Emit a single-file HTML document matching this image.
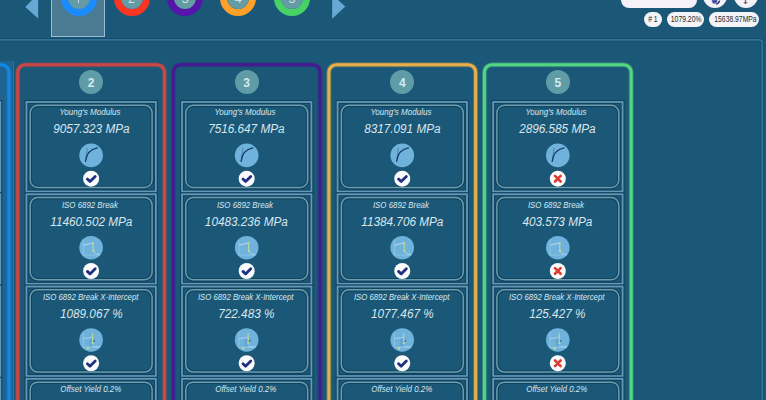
<!DOCTYPE html>
<html><head><meta charset="utf-8"><style>
*{margin:0;padding:0;box-sizing:border-box}
html,body{width:766px;height:400px;overflow:hidden;background:#1b5878;font-family:"Liberation Sans",sans-serif}
.a{position:absolute}
.badge{position:absolute;width:24px;height:24px;border-radius:50%;background:#5f9ca8;color:#d4ecec;font-size:12px;font-weight:bold;line-height:26px;text-align:center}
.card{position:absolute;height:90.4px;width:130.7px}
.t{position:absolute;left:0;right:0;text-align:center;font-style:italic;color:#d8e6ee;white-space:nowrap}
.t1{font-size:8.3px;top:6.3px}
.t2{font-size:12.5px;top:21.3px;transform:scaleX(0.94)}
.pill{position:absolute;top:11.6px;height:15.6px;border-radius:7.8px;background:#f4f4f8;color:#262626;font-size:8.5px;line-height:15.6px;text-align:center}
.pill span{display:inline-block;transform:scaleX(0.8)}
.tab{position:absolute;top:-20px;width:36px;height:36px;border-radius:50%;border:7px solid}
.tab span{position:absolute;left:0;right:0;top:0;bottom:0;border-radius:50%;background:#649ba5;color:#cfe2e2;font-size:12.5px;line-height:25px;text-align:center}
</style></head><body>
<svg class="a" style="left:0;top:0" width="400" height="40"><polygon points="25.3,6.9 38.1,-6 38.1,18.6" fill="#67a9d5"/><polygon points="332.2,-5.5 332.2,18.8 345.3,6.6" fill="#67a9d5"/></svg><div class="a" style="left:51.2px;top:-5px;width:54px;height:42.1px;background:#4b7a93;border:1.3px solid #98bcd4"></div><div class="tab" style="left:60.75px;border-color:#1a8cff"><span></span></div><div class="tab" style="left:113.55000000000001px;border-color:#fc3424"><span>2</span></div><div class="tab" style="left:167.2px;border-color:#5514aa"><span>3</span></div><div class="tab" style="left:220.2px;border-color:#ffa028"><span>4</span></div><div class="tab" style="left:273.9px;border-color:#46d264"><span>5</span></div><div class="a" style="left:78.2px;top:-6px;width:1.2px;height:8.6px;background:#bfe0e6"></div><div class="a" style="left:621.2px;top:-8px;width:75.6px;height:15.7px;border-radius:9px;background:#f4f2f8"></div><div class="a" style="left:703.2px;top:-16.3px;width:24px;height:24px;border-radius:50%;background:#f4f2f8"></div><div class="a" style="left:733.7px;top:-16.3px;width:24px;height:24px;border-radius:50%;background:#f4f2f8"></div><svg class="a" style="left:710px;top:0" width="11" height="6"><path d="M1.6 0 L7.6 0 L7 2.4 L5 4 L2.6 3.2 Z" fill="#5c64b2"/><path d="M3 1.5 L6.5 1.5" stroke="#2a3288" stroke-width="0.9"/><path d="M9.6 0.6 Q9.2 3 6.4 4.4" stroke="#1c2262" stroke-width="1.4" fill="none"/></svg><svg class="a" style="left:742px;top:0" width="7" height="6"><path d="M3.5 0 L3.5 3.2" stroke="#6a605c" stroke-width="1.2"/><path d="M1.2 2.2 L3.5 4.3 L5.8 2.2 Z" fill="#6a605c"/></svg><div class="pill" style="left:644.2px;width:18px"><span>#&nbsp;1</span></div><div class="pill" style="left:666.5px;width:37.5px"><span>1079.20%</span></div><div class="pill" style="left:708.9px;width:49.7px"><span>15638.97MPa</span></div><div class="a" style="left:-10px;top:61.2px;width:24px;height:400px;background:#1f6390;border-right:1px solid #2a729e"></div><svg class="a" style="left:0;top:0" width="766" height="400" viewBox="0 0 766 400"><path d="M0 39.8 L759.7 39.8 Q762.2 39.8 762.2 42.3 L762.2 400" fill="none" stroke="#164d6c" stroke-width="3.4"/><path d="M0 39.8 L759.7 39.8 Q762.2 39.8 762.2 42.3 L762.2 400" fill="none" stroke="#307598" stroke-width="1.8"/><rect x="-137.87" y="64.70" width="146.80" height="400" rx="7.5" fill="none" stroke="#1487e6" stroke-opacity="0.35" stroke-width="5"/><rect x="-137.87" y="64.70" width="146.80" height="400" rx="7.5" fill="none" stroke="#1487e6" stroke-width="3"/><rect x="-129.12" y="102.00" width="129.4" height="89.5" fill="none" stroke="#12435f" stroke-width="4.0"/><rect x="-125.37" y="105.30" width="121.9" height="82.2" rx="7.5" fill="none" stroke="#12435f" stroke-width="3.7"/><rect x="-129.12" y="102.00" width="129.4" height="89.5" fill="none" stroke="#6398b8" stroke-width="1.8"/><rect x="-125.37" y="105.30" width="121.9" height="82.2" rx="7.5" fill="none" stroke="#6a9db0" stroke-width="1.5"/><circle cx="-64.47" cy="155.40" r="11.8" fill="#6fb2db"/><g transform="translate(-76.47 143.40)"><path d="M8.1 4.4 L6.9 15.5" stroke="#4c80ac" stroke-width="0.9" fill="none"/><path d="M6.4 18 C7.2 11 10 6 18.2 4.5" stroke="#163a68" stroke-width="1.25" fill="none" stroke-linecap="round"/></g><circle cx="-64.47" cy="178.70" r="8" fill="#fbfbfb"/><g transform="translate(-72.47 170.70)"><path d="M4.3 8.4 L6.9 10.9 L12.1 5.8" stroke="#1f2f82" stroke-width="2.8" fill="none" stroke-linecap="round" stroke-linejoin="round"/></g><rect x="-129.12" y="194.28" width="129.4" height="89.5" fill="none" stroke="#12435f" stroke-width="4.0"/><rect x="-125.37" y="197.58" width="121.9" height="82.2" rx="7.5" fill="none" stroke="#12435f" stroke-width="3.7"/><rect x="-129.12" y="194.28" width="129.4" height="89.5" fill="none" stroke="#6398b8" stroke-width="1.8"/><rect x="-125.37" y="197.58" width="121.9" height="82.2" rx="7.5" fill="none" stroke="#6a9db0" stroke-width="1.5"/><circle cx="-64.47" cy="247.68" r="11.8" fill="#6fb2db"/><g transform="translate(-76.47 235.68)"><path d="M4.3 4.5 L4.3 19.4 L21 19.4" stroke="#94c6e4" stroke-width="0.8" fill="none"/><path d="M4.3 9.5 L13.7 7.2" stroke="#bcd6ee" stroke-width="1" fill="none"/><path d="M14.2 15.5 L17 18.3 L21 18.8" stroke="#a8d4ee" stroke-width="1" fill="none"/><path d="M13.8 7.2 L14.2 15.5" stroke="#bcd896" stroke-width="1.1" fill="none"/><circle cx="13.8" cy="7.5" r="1.1" fill="#b8d894"/><circle cx="14.2" cy="15.2" r="1.25" fill="#b8d894"/></g><circle cx="-64.47" cy="270.98" r="8" fill="#fbfbfb"/><g transform="translate(-72.47 262.98)"><path d="M4.3 8.4 L6.9 10.9 L12.1 5.8" stroke="#1f2f82" stroke-width="2.8" fill="none" stroke-linecap="round" stroke-linejoin="round"/></g><rect x="-129.12" y="286.56" width="129.4" height="89.5" fill="none" stroke="#12435f" stroke-width="4.0"/><rect x="-125.37" y="289.86" width="121.9" height="82.2" rx="7.5" fill="none" stroke="#12435f" stroke-width="3.7"/><rect x="-129.12" y="286.56" width="129.4" height="89.5" fill="none" stroke="#6398b8" stroke-width="1.8"/><rect x="-125.37" y="289.86" width="121.9" height="82.2" rx="7.5" fill="none" stroke="#6a9db0" stroke-width="1.5"/><circle cx="-64.47" cy="339.96" r="11.8" fill="#6fb2db"/><g transform="translate(-76.47 327.96)"><path d="M4.3 4.5 L4.3 19.4 L21 19.4" stroke="#94c6e4" stroke-width="0.8" fill="none"/><path d="M11.5 9.5 L11.5 18" stroke="#62a6d8" stroke-width="3" fill="none"/><path d="M4.3 10.5 L13.4 9.6" stroke="#b4d4ee" stroke-width="0.9" fill="none"/><path d="M13.6 18.8 L21 18.8" stroke="#a8d4ee" stroke-width="0.9" fill="none"/><path d="M13.4 5.3 L13.6 15.8" stroke="#bcd896" stroke-width="1.1" fill="none"/><path d="M14.3 13.9 L15.8 11.9" stroke="#2d4f86" stroke-width="1" fill="none"/><circle cx="13.6" cy="15.4" r="1.15" fill="#b8d894"/><circle cx="8.8" cy="20.2" r="1.25" fill="#c4d890"/></g><circle cx="-64.47" cy="363.26" r="8" fill="#fbfbfb"/><g transform="translate(-72.47 355.26)"><path d="M4.3 8.4 L6.9 10.9 L12.1 5.8" stroke="#1f2f82" stroke-width="2.8" fill="none" stroke-linecap="round" stroke-linejoin="round"/></g><rect x="-129.12" y="378.84" width="129.4" height="89.5" fill="none" stroke="#12435f" stroke-width="4.0"/><rect x="-125.37" y="382.14" width="121.9" height="82.2" rx="7.5" fill="none" stroke="#12435f" stroke-width="3.7"/><rect x="-129.12" y="378.84" width="129.4" height="89.5" fill="none" stroke="#6398b8" stroke-width="1.8"/><rect x="-125.37" y="382.14" width="121.9" height="82.2" rx="7.5" fill="none" stroke="#6a9db0" stroke-width="1.5"/><circle cx="-64.47" cy="432.24" r="11.8" fill="#6fb2db"/><g transform="translate(-76.47 420.24)"><path d="M4.3 4.5 L4.3 19.4 L21 19.4" stroke="#94c6e4" stroke-width="0.8" fill="none"/><path d="M11.5 9.5 L11.5 18" stroke="#62a6d8" stroke-width="3" fill="none"/><path d="M4.3 10.5 L13.4 9.6" stroke="#b4d4ee" stroke-width="0.9" fill="none"/><path d="M13.6 18.8 L21 18.8" stroke="#a8d4ee" stroke-width="0.9" fill="none"/><path d="M13.4 5.3 L13.6 15.8" stroke="#bcd896" stroke-width="1.1" fill="none"/><path d="M14.3 13.9 L15.8 11.9" stroke="#2d4f86" stroke-width="1" fill="none"/><circle cx="13.6" cy="15.4" r="1.15" fill="#b8d894"/><circle cx="8.8" cy="20.2" r="1.25" fill="#c4d890"/></g><circle cx="-64.47" cy="455.54" r="8" fill="#fbfbfb"/><g transform="translate(-72.47 447.54)"><path d="M4.3 8.4 L6.9 10.9 L12.1 5.8" stroke="#1f2f82" stroke-width="2.8" fill="none" stroke-linecap="round" stroke-linejoin="round"/></g><rect x="17.70" y="64.70" width="146.80" height="400" rx="7.5" fill="none" stroke="#cc4644" stroke-opacity="0.35" stroke-width="5"/><rect x="17.70" y="64.70" width="146.80" height="400" rx="7.5" fill="none" stroke="#cc4644" stroke-width="3"/><rect x="26.45" y="102.00" width="129.4" height="89.5" fill="none" stroke="#12435f" stroke-width="4.0"/><rect x="30.20" y="105.30" width="121.9" height="82.2" rx="7.5" fill="none" stroke="#12435f" stroke-width="3.7"/><rect x="26.45" y="102.00" width="129.4" height="89.5" fill="none" stroke="#6398b8" stroke-width="1.8"/><rect x="30.20" y="105.30" width="121.9" height="82.2" rx="7.5" fill="none" stroke="#6a9db0" stroke-width="1.5"/><circle cx="91.10" cy="155.40" r="11.8" fill="#6fb2db"/><g transform="translate(79.10 143.40)"><path d="M8.1 4.4 L6.9 15.5" stroke="#4c80ac" stroke-width="0.9" fill="none"/><path d="M6.4 18 C7.2 11 10 6 18.2 4.5" stroke="#163a68" stroke-width="1.25" fill="none" stroke-linecap="round"/></g><circle cx="91.10" cy="178.70" r="8" fill="#fbfbfb"/><g transform="translate(83.10 170.70)"><path d="M4.3 8.4 L6.9 10.9 L12.1 5.8" stroke="#1f2f82" stroke-width="2.8" fill="none" stroke-linecap="round" stroke-linejoin="round"/></g><rect x="26.45" y="194.28" width="129.4" height="89.5" fill="none" stroke="#12435f" stroke-width="4.0"/><rect x="30.20" y="197.58" width="121.9" height="82.2" rx="7.5" fill="none" stroke="#12435f" stroke-width="3.7"/><rect x="26.45" y="194.28" width="129.4" height="89.5" fill="none" stroke="#6398b8" stroke-width="1.8"/><rect x="30.20" y="197.58" width="121.9" height="82.2" rx="7.5" fill="none" stroke="#6a9db0" stroke-width="1.5"/><circle cx="91.10" cy="247.68" r="11.8" fill="#6fb2db"/><g transform="translate(79.10 235.68)"><path d="M4.3 4.5 L4.3 19.4 L21 19.4" stroke="#94c6e4" stroke-width="0.8" fill="none"/><path d="M4.3 9.5 L13.7 7.2" stroke="#bcd6ee" stroke-width="1" fill="none"/><path d="M14.2 15.5 L17 18.3 L21 18.8" stroke="#a8d4ee" stroke-width="1" fill="none"/><path d="M13.8 7.2 L14.2 15.5" stroke="#bcd896" stroke-width="1.1" fill="none"/><circle cx="13.8" cy="7.5" r="1.1" fill="#b8d894"/><circle cx="14.2" cy="15.2" r="1.25" fill="#b8d894"/></g><circle cx="91.10" cy="270.98" r="8" fill="#fbfbfb"/><g transform="translate(83.10 262.98)"><path d="M4.3 8.4 L6.9 10.9 L12.1 5.8" stroke="#1f2f82" stroke-width="2.8" fill="none" stroke-linecap="round" stroke-linejoin="round"/></g><rect x="26.45" y="286.56" width="129.4" height="89.5" fill="none" stroke="#12435f" stroke-width="4.0"/><rect x="30.20" y="289.86" width="121.9" height="82.2" rx="7.5" fill="none" stroke="#12435f" stroke-width="3.7"/><rect x="26.45" y="286.56" width="129.4" height="89.5" fill="none" stroke="#6398b8" stroke-width="1.8"/><rect x="30.20" y="289.86" width="121.9" height="82.2" rx="7.5" fill="none" stroke="#6a9db0" stroke-width="1.5"/><circle cx="91.10" cy="339.96" r="11.8" fill="#6fb2db"/><g transform="translate(79.10 327.96)"><path d="M4.3 4.5 L4.3 19.4 L21 19.4" stroke="#94c6e4" stroke-width="0.8" fill="none"/><path d="M11.5 9.5 L11.5 18" stroke="#62a6d8" stroke-width="3" fill="none"/><path d="M4.3 10.5 L13.4 9.6" stroke="#b4d4ee" stroke-width="0.9" fill="none"/><path d="M13.6 18.8 L21 18.8" stroke="#a8d4ee" stroke-width="0.9" fill="none"/><path d="M13.4 5.3 L13.6 15.8" stroke="#bcd896" stroke-width="1.1" fill="none"/><path d="M14.3 13.9 L15.8 11.9" stroke="#2d4f86" stroke-width="1" fill="none"/><circle cx="13.6" cy="15.4" r="1.15" fill="#b8d894"/><circle cx="8.8" cy="20.2" r="1.25" fill="#c4d890"/></g><circle cx="91.10" cy="363.26" r="8" fill="#fbfbfb"/><g transform="translate(83.10 355.26)"><path d="M4.3 8.4 L6.9 10.9 L12.1 5.8" stroke="#1f2f82" stroke-width="2.8" fill="none" stroke-linecap="round" stroke-linejoin="round"/></g><rect x="26.45" y="378.84" width="129.4" height="89.5" fill="none" stroke="#12435f" stroke-width="4.0"/><rect x="30.20" y="382.14" width="121.9" height="82.2" rx="7.5" fill="none" stroke="#12435f" stroke-width="3.7"/><rect x="26.45" y="378.84" width="129.4" height="89.5" fill="none" stroke="#6398b8" stroke-width="1.8"/><rect x="30.20" y="382.14" width="121.9" height="82.2" rx="7.5" fill="none" stroke="#6a9db0" stroke-width="1.5"/><circle cx="91.10" cy="432.24" r="11.8" fill="#6fb2db"/><g transform="translate(79.10 420.24)"><path d="M4.3 4.5 L4.3 19.4 L21 19.4" stroke="#94c6e4" stroke-width="0.8" fill="none"/><path d="M11.5 9.5 L11.5 18" stroke="#62a6d8" stroke-width="3" fill="none"/><path d="M4.3 10.5 L13.4 9.6" stroke="#b4d4ee" stroke-width="0.9" fill="none"/><path d="M13.6 18.8 L21 18.8" stroke="#a8d4ee" stroke-width="0.9" fill="none"/><path d="M13.4 5.3 L13.6 15.8" stroke="#bcd896" stroke-width="1.1" fill="none"/><path d="M14.3 13.9 L15.8 11.9" stroke="#2d4f86" stroke-width="1" fill="none"/><circle cx="13.6" cy="15.4" r="1.15" fill="#b8d894"/><circle cx="8.8" cy="20.2" r="1.25" fill="#c4d890"/></g><circle cx="91.10" cy="455.54" r="8" fill="#fbfbfb"/><g transform="translate(83.10 447.54)"><path d="M4.3 8.4 L6.9 10.9 L12.1 5.8" stroke="#1f2f82" stroke-width="2.8" fill="none" stroke-linecap="round" stroke-linejoin="round"/></g><rect x="173.27" y="64.70" width="146.80" height="400" rx="7.5" fill="none" stroke="#431a90" stroke-opacity="0.35" stroke-width="5"/><rect x="173.27" y="64.70" width="146.80" height="400" rx="7.5" fill="none" stroke="#431a90" stroke-width="3"/><rect x="182.02" y="102.00" width="129.4" height="89.5" fill="none" stroke="#12435f" stroke-width="4.0"/><rect x="185.77" y="105.30" width="121.9" height="82.2" rx="7.5" fill="none" stroke="#12435f" stroke-width="3.7"/><rect x="182.02" y="102.00" width="129.4" height="89.5" fill="none" stroke="#6398b8" stroke-width="1.8"/><rect x="185.77" y="105.30" width="121.9" height="82.2" rx="7.5" fill="none" stroke="#6a9db0" stroke-width="1.5"/><circle cx="246.67" cy="155.40" r="11.8" fill="#6fb2db"/><g transform="translate(234.67 143.40)"><path d="M8.1 4.4 L6.9 15.5" stroke="#4c80ac" stroke-width="0.9" fill="none"/><path d="M6.4 18 C7.2 11 10 6 18.2 4.5" stroke="#163a68" stroke-width="1.25" fill="none" stroke-linecap="round"/></g><circle cx="246.67" cy="178.70" r="8" fill="#fbfbfb"/><g transform="translate(238.67 170.70)"><path d="M4.3 8.4 L6.9 10.9 L12.1 5.8" stroke="#1f2f82" stroke-width="2.8" fill="none" stroke-linecap="round" stroke-linejoin="round"/></g><rect x="182.02" y="194.28" width="129.4" height="89.5" fill="none" stroke="#12435f" stroke-width="4.0"/><rect x="185.77" y="197.58" width="121.9" height="82.2" rx="7.5" fill="none" stroke="#12435f" stroke-width="3.7"/><rect x="182.02" y="194.28" width="129.4" height="89.5" fill="none" stroke="#6398b8" stroke-width="1.8"/><rect x="185.77" y="197.58" width="121.9" height="82.2" rx="7.5" fill="none" stroke="#6a9db0" stroke-width="1.5"/><circle cx="246.67" cy="247.68" r="11.8" fill="#6fb2db"/><g transform="translate(234.67 235.68)"><path d="M4.3 4.5 L4.3 19.4 L21 19.4" stroke="#94c6e4" stroke-width="0.8" fill="none"/><path d="M4.3 9.5 L13.7 7.2" stroke="#bcd6ee" stroke-width="1" fill="none"/><path d="M14.2 15.5 L17 18.3 L21 18.8" stroke="#a8d4ee" stroke-width="1" fill="none"/><path d="M13.8 7.2 L14.2 15.5" stroke="#bcd896" stroke-width="1.1" fill="none"/><circle cx="13.8" cy="7.5" r="1.1" fill="#b8d894"/><circle cx="14.2" cy="15.2" r="1.25" fill="#b8d894"/></g><circle cx="246.67" cy="270.98" r="8" fill="#fbfbfb"/><g transform="translate(238.67 262.98)"><path d="M4.3 8.4 L6.9 10.9 L12.1 5.8" stroke="#1f2f82" stroke-width="2.8" fill="none" stroke-linecap="round" stroke-linejoin="round"/></g><rect x="182.02" y="286.56" width="129.4" height="89.5" fill="none" stroke="#12435f" stroke-width="4.0"/><rect x="185.77" y="289.86" width="121.9" height="82.2" rx="7.5" fill="none" stroke="#12435f" stroke-width="3.7"/><rect x="182.02" y="286.56" width="129.4" height="89.5" fill="none" stroke="#6398b8" stroke-width="1.8"/><rect x="185.77" y="289.86" width="121.9" height="82.2" rx="7.5" fill="none" stroke="#6a9db0" stroke-width="1.5"/><circle cx="246.67" cy="339.96" r="11.8" fill="#6fb2db"/><g transform="translate(234.67 327.96)"><path d="M4.3 4.5 L4.3 19.4 L21 19.4" stroke="#94c6e4" stroke-width="0.8" fill="none"/><path d="M11.5 9.5 L11.5 18" stroke="#62a6d8" stroke-width="3" fill="none"/><path d="M4.3 10.5 L13.4 9.6" stroke="#b4d4ee" stroke-width="0.9" fill="none"/><path d="M13.6 18.8 L21 18.8" stroke="#a8d4ee" stroke-width="0.9" fill="none"/><path d="M13.4 5.3 L13.6 15.8" stroke="#bcd896" stroke-width="1.1" fill="none"/><path d="M14.3 13.9 L15.8 11.9" stroke="#2d4f86" stroke-width="1" fill="none"/><circle cx="13.6" cy="15.4" r="1.15" fill="#b8d894"/><circle cx="8.8" cy="20.2" r="1.25" fill="#c4d890"/></g><circle cx="246.67" cy="363.26" r="8" fill="#fbfbfb"/><g transform="translate(238.67 355.26)"><path d="M4.3 8.4 L6.9 10.9 L12.1 5.8" stroke="#1f2f82" stroke-width="2.8" fill="none" stroke-linecap="round" stroke-linejoin="round"/></g><rect x="182.02" y="378.84" width="129.4" height="89.5" fill="none" stroke="#12435f" stroke-width="4.0"/><rect x="185.77" y="382.14" width="121.9" height="82.2" rx="7.5" fill="none" stroke="#12435f" stroke-width="3.7"/><rect x="182.02" y="378.84" width="129.4" height="89.5" fill="none" stroke="#6398b8" stroke-width="1.8"/><rect x="185.77" y="382.14" width="121.9" height="82.2" rx="7.5" fill="none" stroke="#6a9db0" stroke-width="1.5"/><circle cx="246.67" cy="432.24" r="11.8" fill="#6fb2db"/><g transform="translate(234.67 420.24)"><path d="M4.3 4.5 L4.3 19.4 L21 19.4" stroke="#94c6e4" stroke-width="0.8" fill="none"/><path d="M11.5 9.5 L11.5 18" stroke="#62a6d8" stroke-width="3" fill="none"/><path d="M4.3 10.5 L13.4 9.6" stroke="#b4d4ee" stroke-width="0.9" fill="none"/><path d="M13.6 18.8 L21 18.8" stroke="#a8d4ee" stroke-width="0.9" fill="none"/><path d="M13.4 5.3 L13.6 15.8" stroke="#bcd896" stroke-width="1.1" fill="none"/><path d="M14.3 13.9 L15.8 11.9" stroke="#2d4f86" stroke-width="1" fill="none"/><circle cx="13.6" cy="15.4" r="1.15" fill="#b8d894"/><circle cx="8.8" cy="20.2" r="1.25" fill="#c4d890"/></g><circle cx="246.67" cy="455.54" r="8" fill="#fbfbfb"/><g transform="translate(238.67 447.54)"><path d="M4.3 8.4 L6.9 10.9 L12.1 5.8" stroke="#1f2f82" stroke-width="2.8" fill="none" stroke-linecap="round" stroke-linejoin="round"/></g><rect x="328.84" y="64.70" width="146.80" height="400" rx="7.5" fill="none" stroke="#e8ae48" stroke-opacity="0.35" stroke-width="5"/><rect x="328.84" y="64.70" width="146.80" height="400" rx="7.5" fill="none" stroke="#e8ae48" stroke-width="3"/><rect x="337.59" y="102.00" width="129.4" height="89.5" fill="none" stroke="#12435f" stroke-width="4.0"/><rect x="341.34" y="105.30" width="121.9" height="82.2" rx="7.5" fill="none" stroke="#12435f" stroke-width="3.7"/><rect x="337.59" y="102.00" width="129.4" height="89.5" fill="none" stroke="#6398b8" stroke-width="1.8"/><rect x="341.34" y="105.30" width="121.9" height="82.2" rx="7.5" fill="none" stroke="#6a9db0" stroke-width="1.5"/><circle cx="402.24" cy="155.40" r="11.8" fill="#6fb2db"/><g transform="translate(390.24 143.40)"><path d="M8.1 4.4 L6.9 15.5" stroke="#4c80ac" stroke-width="0.9" fill="none"/><path d="M6.4 18 C7.2 11 10 6 18.2 4.5" stroke="#163a68" stroke-width="1.25" fill="none" stroke-linecap="round"/></g><circle cx="402.24" cy="178.70" r="8" fill="#fbfbfb"/><g transform="translate(394.24 170.70)"><path d="M4.3 8.4 L6.9 10.9 L12.1 5.8" stroke="#1f2f82" stroke-width="2.8" fill="none" stroke-linecap="round" stroke-linejoin="round"/></g><rect x="337.59" y="194.28" width="129.4" height="89.5" fill="none" stroke="#12435f" stroke-width="4.0"/><rect x="341.34" y="197.58" width="121.9" height="82.2" rx="7.5" fill="none" stroke="#12435f" stroke-width="3.7"/><rect x="337.59" y="194.28" width="129.4" height="89.5" fill="none" stroke="#6398b8" stroke-width="1.8"/><rect x="341.34" y="197.58" width="121.9" height="82.2" rx="7.5" fill="none" stroke="#6a9db0" stroke-width="1.5"/><circle cx="402.24" cy="247.68" r="11.8" fill="#6fb2db"/><g transform="translate(390.24 235.68)"><path d="M4.3 4.5 L4.3 19.4 L21 19.4" stroke="#94c6e4" stroke-width="0.8" fill="none"/><path d="M4.3 9.5 L13.7 7.2" stroke="#bcd6ee" stroke-width="1" fill="none"/><path d="M14.2 15.5 L17 18.3 L21 18.8" stroke="#a8d4ee" stroke-width="1" fill="none"/><path d="M13.8 7.2 L14.2 15.5" stroke="#bcd896" stroke-width="1.1" fill="none"/><circle cx="13.8" cy="7.5" r="1.1" fill="#b8d894"/><circle cx="14.2" cy="15.2" r="1.25" fill="#b8d894"/></g><circle cx="402.24" cy="270.98" r="8" fill="#fbfbfb"/><g transform="translate(394.24 262.98)"><path d="M4.3 8.4 L6.9 10.9 L12.1 5.8" stroke="#1f2f82" stroke-width="2.8" fill="none" stroke-linecap="round" stroke-linejoin="round"/></g><rect x="337.59" y="286.56" width="129.4" height="89.5" fill="none" stroke="#12435f" stroke-width="4.0"/><rect x="341.34" y="289.86" width="121.9" height="82.2" rx="7.5" fill="none" stroke="#12435f" stroke-width="3.7"/><rect x="337.59" y="286.56" width="129.4" height="89.5" fill="none" stroke="#6398b8" stroke-width="1.8"/><rect x="341.34" y="289.86" width="121.9" height="82.2" rx="7.5" fill="none" stroke="#6a9db0" stroke-width="1.5"/><circle cx="402.24" cy="339.96" r="11.8" fill="#6fb2db"/><g transform="translate(390.24 327.96)"><path d="M4.3 4.5 L4.3 19.4 L21 19.4" stroke="#94c6e4" stroke-width="0.8" fill="none"/><path d="M11.5 9.5 L11.5 18" stroke="#62a6d8" stroke-width="3" fill="none"/><path d="M4.3 10.5 L13.4 9.6" stroke="#b4d4ee" stroke-width="0.9" fill="none"/><path d="M13.6 18.8 L21 18.8" stroke="#a8d4ee" stroke-width="0.9" fill="none"/><path d="M13.4 5.3 L13.6 15.8" stroke="#bcd896" stroke-width="1.1" fill="none"/><path d="M14.3 13.9 L15.8 11.9" stroke="#2d4f86" stroke-width="1" fill="none"/><circle cx="13.6" cy="15.4" r="1.15" fill="#b8d894"/><circle cx="8.8" cy="20.2" r="1.25" fill="#c4d890"/></g><circle cx="402.24" cy="363.26" r="8" fill="#fbfbfb"/><g transform="translate(394.24 355.26)"><path d="M4.3 8.4 L6.9 10.9 L12.1 5.8" stroke="#1f2f82" stroke-width="2.8" fill="none" stroke-linecap="round" stroke-linejoin="round"/></g><rect x="337.59" y="378.84" width="129.4" height="89.5" fill="none" stroke="#12435f" stroke-width="4.0"/><rect x="341.34" y="382.14" width="121.9" height="82.2" rx="7.5" fill="none" stroke="#12435f" stroke-width="3.7"/><rect x="337.59" y="378.84" width="129.4" height="89.5" fill="none" stroke="#6398b8" stroke-width="1.8"/><rect x="341.34" y="382.14" width="121.9" height="82.2" rx="7.5" fill="none" stroke="#6a9db0" stroke-width="1.5"/><circle cx="402.24" cy="432.24" r="11.8" fill="#6fb2db"/><g transform="translate(390.24 420.24)"><path d="M4.3 4.5 L4.3 19.4 L21 19.4" stroke="#94c6e4" stroke-width="0.8" fill="none"/><path d="M11.5 9.5 L11.5 18" stroke="#62a6d8" stroke-width="3" fill="none"/><path d="M4.3 10.5 L13.4 9.6" stroke="#b4d4ee" stroke-width="0.9" fill="none"/><path d="M13.6 18.8 L21 18.8" stroke="#a8d4ee" stroke-width="0.9" fill="none"/><path d="M13.4 5.3 L13.6 15.8" stroke="#bcd896" stroke-width="1.1" fill="none"/><path d="M14.3 13.9 L15.8 11.9" stroke="#2d4f86" stroke-width="1" fill="none"/><circle cx="13.6" cy="15.4" r="1.15" fill="#b8d894"/><circle cx="8.8" cy="20.2" r="1.25" fill="#c4d890"/></g><circle cx="402.24" cy="455.54" r="8" fill="#fbfbfb"/><g transform="translate(394.24 447.54)"><path d="M4.3 8.4 L6.9 10.9 L12.1 5.8" stroke="#1f2f82" stroke-width="2.8" fill="none" stroke-linecap="round" stroke-linejoin="round"/></g><rect x="484.41" y="64.70" width="146.80" height="400" rx="7.5" fill="none" stroke="#55d482" stroke-opacity="0.35" stroke-width="5"/><rect x="484.41" y="64.70" width="146.80" height="400" rx="7.5" fill="none" stroke="#55d482" stroke-width="3"/><rect x="493.16" y="102.00" width="129.4" height="89.5" fill="none" stroke="#12435f" stroke-width="4.0"/><rect x="496.91" y="105.30" width="121.9" height="82.2" rx="7.5" fill="none" stroke="#12435f" stroke-width="3.7"/><rect x="493.16" y="102.00" width="129.4" height="89.5" fill="none" stroke="#6398b8" stroke-width="1.8"/><rect x="496.91" y="105.30" width="121.9" height="82.2" rx="7.5" fill="none" stroke="#6a9db0" stroke-width="1.5"/><circle cx="557.81" cy="155.40" r="11.8" fill="#6fb2db"/><g transform="translate(545.81 143.40)"><path d="M8.1 4.4 L6.9 15.5" stroke="#4c80ac" stroke-width="0.9" fill="none"/><path d="M6.4 18 C7.2 11 10 6 18.2 4.5" stroke="#163a68" stroke-width="1.25" fill="none" stroke-linecap="round"/></g><circle cx="557.81" cy="178.70" r="8" fill="#fbfbfb"/><g transform="translate(549.81 170.70)"><path d="M5.2 5.2 L10.8 10.8 M10.8 5.2 L5.2 10.8" stroke="#e03a30" stroke-width="2.6" fill="none" stroke-linecap="round"/></g><rect x="493.16" y="194.28" width="129.4" height="89.5" fill="none" stroke="#12435f" stroke-width="4.0"/><rect x="496.91" y="197.58" width="121.9" height="82.2" rx="7.5" fill="none" stroke="#12435f" stroke-width="3.7"/><rect x="493.16" y="194.28" width="129.4" height="89.5" fill="none" stroke="#6398b8" stroke-width="1.8"/><rect x="496.91" y="197.58" width="121.9" height="82.2" rx="7.5" fill="none" stroke="#6a9db0" stroke-width="1.5"/><circle cx="557.81" cy="247.68" r="11.8" fill="#6fb2db"/><g transform="translate(545.81 235.68)"><path d="M4.3 4.5 L4.3 19.4 L21 19.4" stroke="#94c6e4" stroke-width="0.8" fill="none"/><path d="M4.3 9.5 L13.7 7.2" stroke="#bcd6ee" stroke-width="1" fill="none"/><path d="M14.2 15.5 L17 18.3 L21 18.8" stroke="#a8d4ee" stroke-width="1" fill="none"/><path d="M13.8 7.2 L14.2 15.5" stroke="#bcd896" stroke-width="1.1" fill="none"/><circle cx="13.8" cy="7.5" r="1.1" fill="#b8d894"/><circle cx="14.2" cy="15.2" r="1.25" fill="#b8d894"/></g><circle cx="557.81" cy="270.98" r="8" fill="#fbfbfb"/><g transform="translate(549.81 262.98)"><path d="M5.2 5.2 L10.8 10.8 M10.8 5.2 L5.2 10.8" stroke="#e03a30" stroke-width="2.6" fill="none" stroke-linecap="round"/></g><rect x="493.16" y="286.56" width="129.4" height="89.5" fill="none" stroke="#12435f" stroke-width="4.0"/><rect x="496.91" y="289.86" width="121.9" height="82.2" rx="7.5" fill="none" stroke="#12435f" stroke-width="3.7"/><rect x="493.16" y="286.56" width="129.4" height="89.5" fill="none" stroke="#6398b8" stroke-width="1.8"/><rect x="496.91" y="289.86" width="121.9" height="82.2" rx="7.5" fill="none" stroke="#6a9db0" stroke-width="1.5"/><circle cx="557.81" cy="339.96" r="11.8" fill="#6fb2db"/><g transform="translate(545.81 327.96)"><path d="M4.3 4.5 L4.3 19.4 L21 19.4" stroke="#94c6e4" stroke-width="0.8" fill="none"/><path d="M11.5 9.5 L11.5 18" stroke="#62a6d8" stroke-width="3" fill="none"/><path d="M4.3 10.5 L13.4 9.6" stroke="#b4d4ee" stroke-width="0.9" fill="none"/><path d="M13.6 18.8 L21 18.8" stroke="#a8d4ee" stroke-width="0.9" fill="none"/><path d="M13.4 5.3 L13.6 15.8" stroke="#bcd896" stroke-width="1.1" fill="none"/><path d="M14.3 13.9 L15.8 11.9" stroke="#2d4f86" stroke-width="1" fill="none"/><circle cx="13.6" cy="15.4" r="1.15" fill="#b8d894"/><circle cx="8.8" cy="20.2" r="1.25" fill="#c4d890"/></g><circle cx="557.81" cy="363.26" r="8" fill="#fbfbfb"/><g transform="translate(549.81 355.26)"><path d="M5.2 5.2 L10.8 10.8 M10.8 5.2 L5.2 10.8" stroke="#e03a30" stroke-width="2.6" fill="none" stroke-linecap="round"/></g><rect x="493.16" y="378.84" width="129.4" height="89.5" fill="none" stroke="#12435f" stroke-width="4.0"/><rect x="496.91" y="382.14" width="121.9" height="82.2" rx="7.5" fill="none" stroke="#12435f" stroke-width="3.7"/><rect x="493.16" y="378.84" width="129.4" height="89.5" fill="none" stroke="#6398b8" stroke-width="1.8"/><rect x="496.91" y="382.14" width="121.9" height="82.2" rx="7.5" fill="none" stroke="#6a9db0" stroke-width="1.5"/><circle cx="557.81" cy="432.24" r="11.8" fill="#6fb2db"/><g transform="translate(545.81 420.24)"><path d="M4.3 4.5 L4.3 19.4 L21 19.4" stroke="#94c6e4" stroke-width="0.8" fill="none"/><path d="M11.5 9.5 L11.5 18" stroke="#62a6d8" stroke-width="3" fill="none"/><path d="M4.3 10.5 L13.4 9.6" stroke="#b4d4ee" stroke-width="0.9" fill="none"/><path d="M13.6 18.8 L21 18.8" stroke="#a8d4ee" stroke-width="0.9" fill="none"/><path d="M13.4 5.3 L13.6 15.8" stroke="#bcd896" stroke-width="1.1" fill="none"/><path d="M14.3 13.9 L15.8 11.9" stroke="#2d4f86" stroke-width="1" fill="none"/><circle cx="13.6" cy="15.4" r="1.15" fill="#b8d894"/><circle cx="8.8" cy="20.2" r="1.25" fill="#c4d890"/></g><circle cx="557.81" cy="455.54" r="8" fill="#fbfbfb"/><g transform="translate(549.81 447.54)"><path d="M5.2 5.2 L10.8 10.8 M10.8 5.2 L5.2 10.8" stroke="#e03a30" stroke-width="2.6" fill="none" stroke-linecap="round"/></g></svg><div class="badge" style="left:-76.47px;top:69.5px">1</div><div class="card" style="left:-129.82px;top:101.20px"><div class="t t1" style="transform:translateX(-1.4px) scaleX(0.969)">Young's Modulus</div><div class="t t2">0000.000 MPa</div></div><div class="card" style="left:-129.82px;top:193.48px"><div class="t t1" style="transform:translateX(-1.45px) scaleX(0.947)">ISO 6892 Break</div><div class="t t2">00000.000 MPa</div></div><div class="card" style="left:-129.82px;top:285.76px"><div class="t t1" style="transform:translateX(-0.7px) scaleX(0.937)">ISO 6892 Break X-Intercept</div><div class="t t2">0000.000 %</div></div><div class="card" style="left:-129.82px;top:378.04px"><div class="t t1" style="transform:translateX(-0.6px) scaleX(0.956)">Offset Yield 0.2%</div><div class="t t2"></div></div><div class="badge" style="left:79.10px;top:69.5px">2</div><div class="card" style="left:25.75px;top:101.20px"><div class="t t1" style="transform:translateX(-1.4px) scaleX(0.969)">Young's Modulus</div><div class="t t2">9057.323 MPa</div></div><div class="card" style="left:25.75px;top:193.48px"><div class="t t1" style="transform:translateX(-1.45px) scaleX(0.947)">ISO 6892 Break</div><div class="t t2">11460.502 MPa</div></div><div class="card" style="left:25.75px;top:285.76px"><div class="t t1" style="transform:translateX(-0.7px) scaleX(0.937)">ISO 6892 Break X-Intercept</div><div class="t t2">1089.067 %</div></div><div class="card" style="left:25.75px;top:378.04px"><div class="t t1" style="transform:translateX(-0.6px) scaleX(0.956)">Offset Yield 0.2%</div><div class="t t2"></div></div><div class="badge" style="left:234.67px;top:69.5px">3</div><div class="card" style="left:181.32px;top:101.20px"><div class="t t1" style="transform:translateX(-1.4px) scaleX(0.969)">Young's Modulus</div><div class="t t2">7516.647 MPa</div></div><div class="card" style="left:181.32px;top:193.48px"><div class="t t1" style="transform:translateX(-1.45px) scaleX(0.947)">ISO 6892 Break</div><div class="t t2">10483.236 MPa</div></div><div class="card" style="left:181.32px;top:285.76px"><div class="t t1" style="transform:translateX(-0.7px) scaleX(0.937)">ISO 6892 Break X-Intercept</div><div class="t t2">722.483 %</div></div><div class="card" style="left:181.32px;top:378.04px"><div class="t t1" style="transform:translateX(-0.6px) scaleX(0.956)">Offset Yield 0.2%</div><div class="t t2"></div></div><div class="badge" style="left:390.24px;top:69.5px">4</div><div class="card" style="left:336.89px;top:101.20px"><div class="t t1" style="transform:translateX(-1.4px) scaleX(0.969)">Young's Modulus</div><div class="t t2">8317.091 MPa</div></div><div class="card" style="left:336.89px;top:193.48px"><div class="t t1" style="transform:translateX(-1.45px) scaleX(0.947)">ISO 6892 Break</div><div class="t t2">11384.706 MPa</div></div><div class="card" style="left:336.89px;top:285.76px"><div class="t t1" style="transform:translateX(-0.7px) scaleX(0.937)">ISO 6892 Break X-Intercept</div><div class="t t2">1077.467 %</div></div><div class="card" style="left:336.89px;top:378.04px"><div class="t t1" style="transform:translateX(-0.6px) scaleX(0.956)">Offset Yield 0.2%</div><div class="t t2"></div></div><div class="badge" style="left:545.81px;top:69.5px">5</div><div class="card" style="left:492.46px;top:101.20px"><div class="t t1" style="transform:translateX(-1.4px) scaleX(0.969)">Young's Modulus</div><div class="t t2">2896.585 MPa</div></div><div class="card" style="left:492.46px;top:193.48px"><div class="t t1" style="transform:translateX(-1.45px) scaleX(0.947)">ISO 6892 Break</div><div class="t t2">403.573 MPa</div></div><div class="card" style="left:492.46px;top:285.76px"><div class="t t1" style="transform:translateX(-0.7px) scaleX(0.937)">ISO 6892 Break X-Intercept</div><div class="t t2">125.427 %</div></div><div class="card" style="left:492.46px;top:378.04px"><div class="t t1" style="transform:translateX(-0.6px) scaleX(0.956)">Offset Yield 0.2%</div><div class="t t2"></div></div></body></html>
